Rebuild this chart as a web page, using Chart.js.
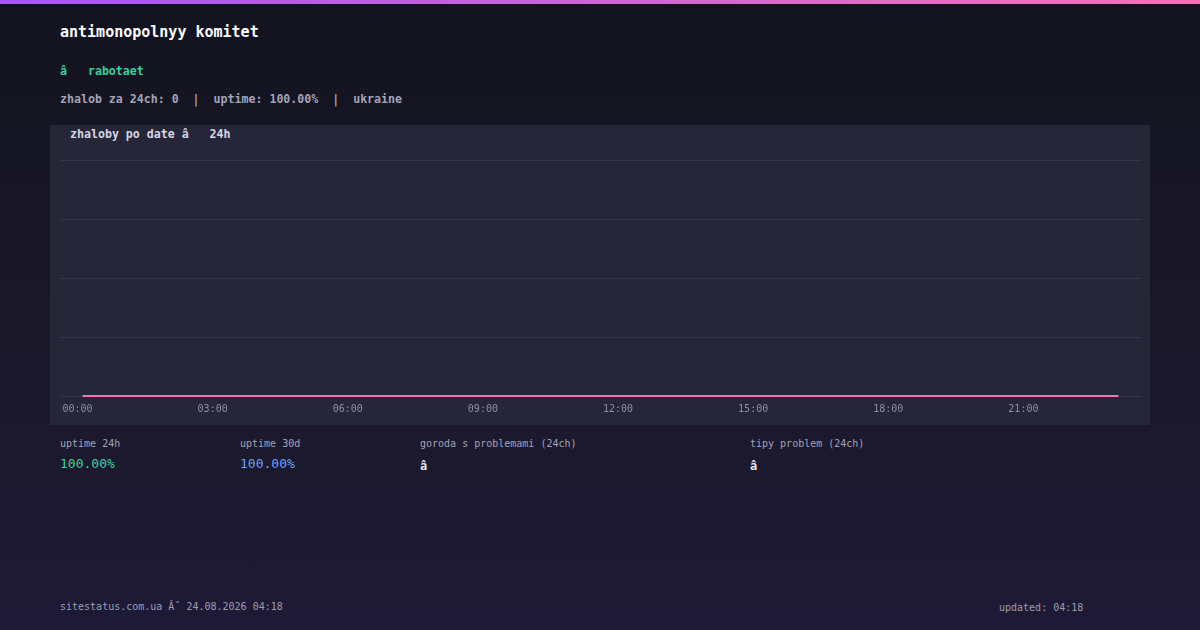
<!DOCTYPE html>
<html>
<head>
<meta charset="utf-8">
<script src="https://cdn.jsdelivr.net/npm/chart.js@4/dist/chart.umd.min.js"></script>
<style>
  html, body { margin: 0; padding: 0; }
  body {
    width: 1200px; height: 630px; overflow: hidden; position: relative;
    background: linear-gradient(180deg, #13131f 0%, #1a1829 50%, #1e1a36 100%);
    font-family: "DejaVu Sans Mono", monospace;
  }
  .topbar { position: absolute; left: 0; top: 0; width: 1200px; height: 4px;
    background: linear-gradient(90deg, #a855f7, #f472b6); }
  .t { position: absolute; white-space: pre; line-height: 1; }
  .panel { position: absolute; left: 50px; top: 125px; width: 1100px; height: 300px; background: #262639; }
  .wrap { position: absolute; left: 50px; top: 150px; width: 1100px; height: 275px; }
</style>
</head>
<body>
<div class="topbar"></div>
<div class="t" style="left:60px;top:25px;font-size:15px;font-weight:bold;color:#ffffff">antimonopolnyy komitet</div>
<div class="t" style="left:60px;top:66px;font-size:11.6px;font-weight:bold;color:#34d399">â   rabotaet</div>
<div class="t" style="left:60px;top:94px;font-size:11.6px;font-weight:bold;color:#a3a3b8">zhalob za 24ch: 0  |  uptime: 100.00%  |  ukraine</div>

<div class="panel"></div>
<div class="t" style="left:70px;top:129px;font-size:11.6px;font-weight:bold;color:#d6d6e4">zhaloby po date â   24h</div>
<div class="wrap"><canvas id="grafico"></canvas></div>

<div class="t" style="left:60px;top:439px;font-size:10px;color:#a3a3b5">uptime 24h</div>
<div class="t" style="left:60px;top:457px;font-size:13px;color:#34d399">100.00%</div>
<div class="t" style="left:240px;top:439px;font-size:10px;color:#a3a3b5">uptime 30d</div>
<div class="t" style="left:240px;top:457px;font-size:13px;color:#60a5fa">100.00%</div>
<div class="t" style="left:420px;top:439px;font-size:10px;color:#a3a3b5">goroda s problemami (24ch)</div>
<div class="t" style="left:420px;top:460px;font-size:12px;font-weight:bold;color:#e8e8f0">â</div>
<div class="t" style="left:750px;top:439px;font-size:10px;color:#a3a3b5">tipy problem (24ch)</div>
<div class="t" style="left:750px;top:460px;font-size:12px;font-weight:bold;color:#e8e8f0">â</div>

<div class="t" style="left:60px;top:602px;font-size:10px;color:#9d9db2">sitestatus.com.ua Âˇ 24.08.2026 04:18</div>
<div class="t" style="left:999px;top:603px;font-size:10px;color:#9d9db2">updated: 04:18</div>

<script>
// === Datos ===
const horas = ["00:00", "01:00", "02:00", "03:00", "04:00", "05:00", "06:00", "07:00",
  "08:00", "09:00", "10:00", "11:00", "12:00", "13:00", "14:00", "15:00",
  "16:00", "17:00", "18:00", "19:00", "20:00", "21:00", "22:00", "23:00"];
const zhaloby = [0, 0, 0, 0, 0, 0, 0, 0, 0, 0, 0, 0, 0, 0, 0, 0, 0, 0, 0, 0, 0, 0, 0, 0];
const ejeY = { min: 0, max: 4, paso: 1 };

// === Gráfico ===
const ctx = document.getElementById("grafico").getContext("2d");
new Chart(ctx, {
  type: "line",
  data: {
    labels: horas,
    datasets: [{
      label: "zhaloby",
      data: zhaloby,
      borderColor: "#f472b6",
      borderWidth: 2,
      pointRadius: 0,
      tension: 0.3,
      fill: false,
      clip: false
    }]
  },
  options: {
    responsive: true,
    maintainAspectRatio: false,
    animation: false,
    layout: { padding: { left: 10, right: 9, top: 10, bottom: 3 } },
    plugins: {
      legend: { display: false },
      tooltip: { enabled: false }
    },
    scales: {
      x: {
        offset: true,
        grid: { display: false, drawTicks: false },
        border: { display: false },
        ticks: {
          color: "#8e8ea4",
          font: { family: "DejaVu Sans Mono", size: 10 },
          maxRotation: 0,
          autoSkip: false,
          labelOffset: -5,
          padding: 7,
          callback: (v, i) => (i % 3 === 0 ? horas[i] : "")
        }
      },
      y: {
        min: ejeY.min,
        max: ejeY.max,
        ticks: { display: false, stepSize: ejeY.paso },
        grid: { color: "#35354b", drawTicks: false },
        border: { display: false }
      }
    }
  }
});
</script>
</body>
</html>
